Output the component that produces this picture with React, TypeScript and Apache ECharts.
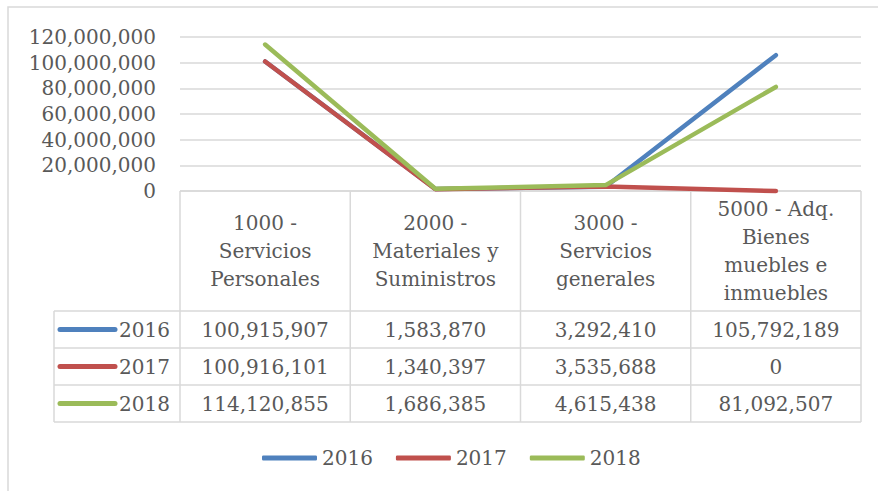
import React, { useEffect, useRef } from "react";
import * as echarts from "echarts";

const categories = [
  "1000 -\nServicios\nPersonales",
  "2000 -\nMateriales y\nSuministros",
  "3000 -\nServicios\ngenerales",
  "5000 - Adq.\nBienes\nmuebles e\ninmuebles",
];
const seriesNames = ["2016", "2017", "2018"];
const values2016 = [100915907, 1583870, 3292410, 105792189];
const values2017 = [100916101, 1340397, 3535688, 0];
const values2018 = [114120855, 1686385, 4615438, 81092507];
const seriesValues = [values2016, values2017, values2018];
const colors = ["#4F81BD", "#C0504D", "#9BBB59"];
const yMin = 0;
const yMax = 120000000;
const yInterval = 20000000;

const FONT = "DejaVu Serif";
const TEXT = "#595959";
const GRID = "#d9d9d9";

const fmt = (v: number) => v.toLocaleString("en-US");

export default function App() {
  const ref = useRef<HTMLDivElement>(null);
  useEffect(() => {
    if (!ref.current) return;
    const chart = echarts.init(ref.current, undefined, { renderer: "svg" });

    const plotLeft = 180;
    const plotRight = 861;
    const plotTop = 37;
    const plotBottom = 191;
    const headerBottom = 311;
    const rowH = 37;
    const keyColLeft = 54;
    const colW = (plotRight - plotLeft) / categories.length;
    const tableBottom = headerBottom + rowH * seriesNames.length;

    const g: any[] = [];
    g.push({
      type: "rect",
      shape: { x: 8, y: 7, width: 1000, height: 1000 },
      style: { fill: "none", stroke: GRID, lineWidth: 1.5 },
      z: 0,
    });
    const hline = (x1: number, x2: number, y: number) =>
      g.push({ type: "line", shape: { x1, y1: y, x2, y2: y }, style: { stroke: GRID, lineWidth: 1.5 }, z: 1 });
    const vline = (x: number, y1: number, y2: number) =>
      g.push({ type: "line", shape: { x1: x, y1, x2: x, y2 }, style: { stroke: GRID, lineWidth: 1.5 }, z: 1 });

    hline(plotLeft, plotRight, plotBottom);
    for (let r = 0; r <= seriesNames.length; r++) hline(keyColLeft, plotRight, headerBottom + r * rowH);
    vline(keyColLeft, headerBottom, tableBottom);
    for (let c = 0; c <= categories.length; c++) vline(plotLeft + c * colW, plotBottom, tableBottom);

    categories.forEach((cat, c) => {
      g.push({
        type: "text",
        z: 3,
        style: {
          text: cat,
          x: plotLeft + (c + 0.5) * colW,
          y: (plotBottom + headerBottom) / 2,
          align: "center",
          verticalAlign: "middle",
          fontSize: 20,
          lineHeight: 28,
          fontFamily: FONT,
          fill: TEXT,
        },
      });
    });

    seriesNames.forEach((name, r) => {
      const cy = headerBottom + (r + 0.5) * rowH;
      g.push({
        type: "line",
        z: 3,
        shape: { x1: 60, y1: cy, x2: 115, y2: cy },
        style: { stroke: colors[r], lineWidth: 5, lineCap: "round" },
      });
      g.push({
        type: "text",
        z: 3,
        style: {
          text: name,
          x: 119,
          y: cy,
          align: "left",
          verticalAlign: "middle",
          fontSize: 20,
          fontFamily: FONT,
          fill: TEXT,
        },
      });
      seriesValues[r].forEach((v, c) => {
        g.push({
          type: "text",
          z: 3,
          style: {
            text: fmt(v),
            x: plotLeft + (c + 0.5) * colW,
            y: cy,
            align: "center",
            verticalAlign: "middle",
            fontSize: 20,
            fontFamily: FONT,
            fill: TEXT,
          },
        });
      });
    });

    chart.setOption({
      animation: false,
      backgroundColor: "#ffffff",
      textStyle: { fontFamily: FONT },
      grid: { left: plotLeft, right: 878 - plotRight, top: plotTop, bottom: 491 - plotBottom, containLabel: false },
      xAxis: {
        type: "category",
        data: categories,
        boundaryGap: true,
        axisLine: { show: false },
        axisTick: { show: false },
        axisLabel: { show: false },
      },
      yAxis: {
        type: "value",
        min: yMin,
        max: yMax,
        interval: yInterval,
        axisLine: { show: false },
        axisTick: { show: false },
        axisLabel: {
          formatter: (v: number) => fmt(v),
          fontSize: 20,
          fontFamily: FONT,
          color: TEXT,
          margin: 24,
        },
        splitLine: { lineStyle: { color: GRID, width: 1.5 } },
      },
      legend: {
        data: seriesNames,
        left: 262,
        top: 448,
        padding: 0,
        itemWidth: 55,
        itemHeight: 5,
        itemGap: 23,
        icon: "roundRect",
        textStyle: { fontSize: 20, fontFamily: FONT, color: TEXT },
      },
      series: seriesNames.map((name, i) => ({
        name,
        type: "line",
        data: seriesValues[i],
        symbol: "none",
        clip: false,
        z: 5,
        lineStyle: { color: colors[i], width: 4.5, cap: "round", join: "round" },
        itemStyle: { color: colors[i] },
      })),
      graphic: g,
    });
    return () => chart.dispose();
  }, []);
  return (
    <div
      ref={ref}
      style={{ position: "fixed", left: 0, top: 0, width: 878, height: 491, background: "#fff" }}
    />
  );
}
